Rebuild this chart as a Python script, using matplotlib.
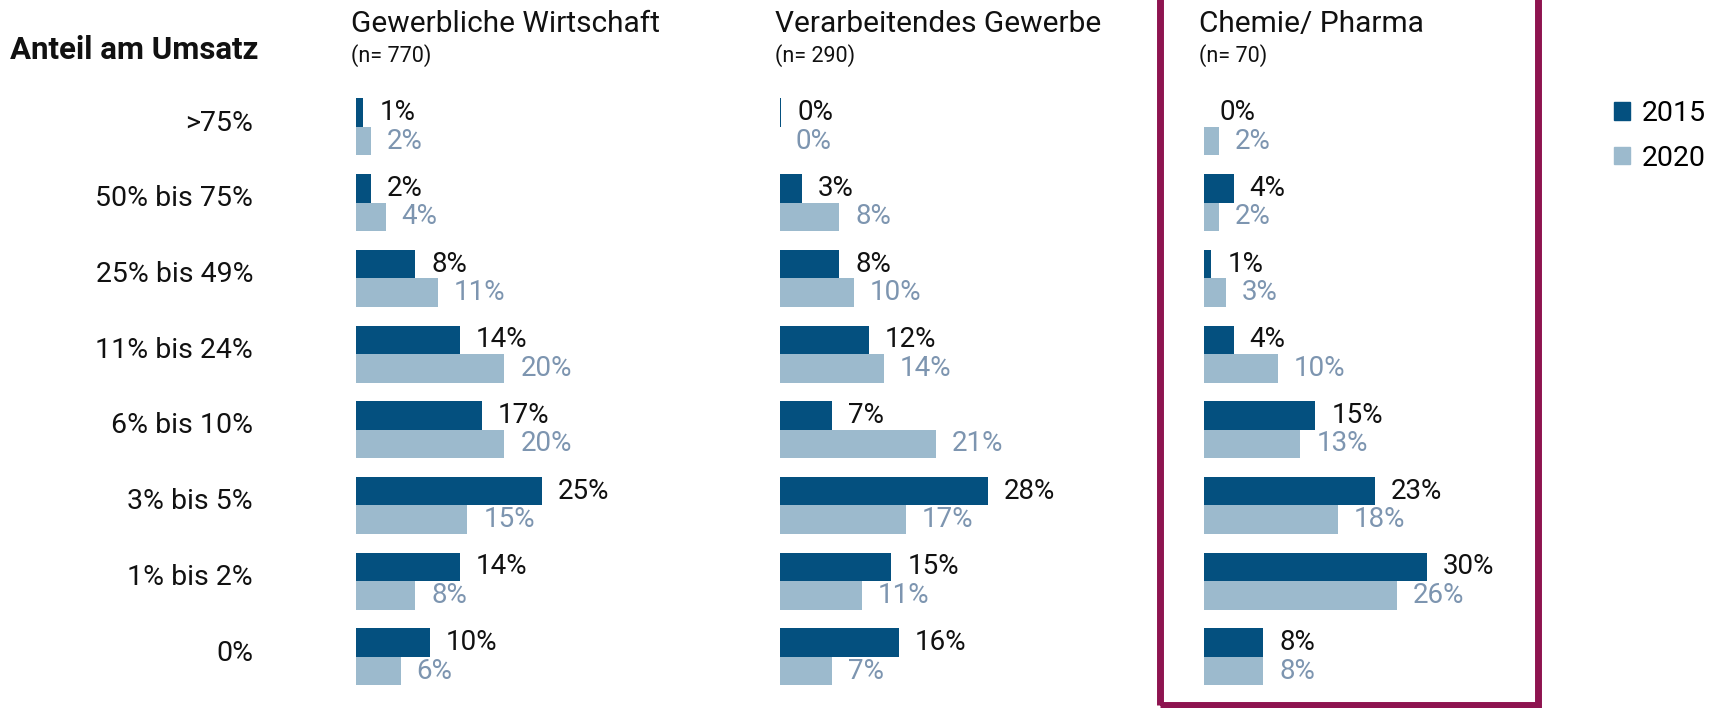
import matplotlib
matplotlib.use("Agg")
import matplotlib.pyplot as plt
from matplotlib.patches import Rectangle, Patch

# Data
categories = [">75%", "50% bis 75%", "25% bis 49%", "11% bis 24%",
              "6% bis 10%", "3% bis 5%", "1% bis 2%", "0%"]
panel_titles = ["Gewerbliche Wirtschaft", "Verarbeitendes Gewerbe", "Chemie/ Pharma"]
panel_n = ["(n= 770)", "(n= 290)", "(n= 70)"]
years = ["2015", "2020"]

gewerbe_2015 = [1, 2, 8, 14, 17, 25, 14, 10]
gewerbe_2020 = [2, 4, 11, 20, 20, 15, 8, 6]
verarb_2015 = [0.2, 3, 8, 12, 7, 28, 15, 16]
verarb_2020 = [0, 8, 10, 14, 21, 17, 11, 7]
chemie_2015 = [0, 4, 1, 4, 15, 23, 30, 8]
chemie_2020 = [2, 2, 3, 10, 13, 18, 26, 8]

series = [(gewerbe_2015, gewerbe_2020),
          (verarb_2015, verarb_2020),
          (chemie_2015, chemie_2020)]

DARK = "#04507f"
LIGHT = "#9cbacd"
LIGHT_TEXT = "#7d95b0"
FRAME = "#8e1450"

plt.rcParams["font.family"] = ["Roboto", "DejaVu Sans"]

W, H = 1721, 708
fig = plt.figure(figsize=(W / 100, H / 100), dpi=100)

PX_PER_PCT = 7.42
panel_left = [356, 780, 1204]
panel_width = 380
ax_top, ax_bottom = 80, 700
bar_h = 0.376

for k, (v15, v20) in enumerate(series):
    left = panel_left[k]
    ax = fig.add_axes([left / W, 1 - ax_bottom / H, panel_width / W, (ax_bottom - ax_top) / H])
    ax.set_xlim(0, panel_width / PX_PER_PCT)
    ax.set_ylim(7.57, -0.62)
    ax.axis("off")
    pos = list(range(len(categories)))
    ax.barh([p - bar_h / 2 for p in pos], v15, height=bar_h, color=DARK, linewidth=0)
    ax.barh([p + bar_h / 2 for p in pos], v20, height=bar_h, color=LIGHT, linewidth=0)
    for p, a, b in zip(pos, v15, v20):
        ax.text(a + 2.15, p - bar_h / 2, f"{round(a)}%", va="center", ha="left",
                fontsize=20, color="#111111")
        ax.text(b + 2.15, p + bar_h / 2, f"{round(b)}%", va="center", ha="left",
                fontsize=20, color=LIGHT_TEXT)
    fig.text((left - 5) / W, 1 - 24 / H, panel_titles[k], fontsize=21.5,
             va="center", ha="left", color="#111111")
    fig.text((left - 5) / W, 1 - 56 / H, panel_n[k], fontsize=15.5,
             va="center", ha="left", color="#111111")
    if k == 0:
        for p, c in zip(pos, categories):
            ax.text(-103 / PX_PER_PCT, p - 0.05, c, ha="right", va="center",
                    fontsize=20.5, color="#111111")

fig.text(10 / W, 1 - 50 / H, "Anteil am Umsatz", fontsize=22.5, fontweight="bold",
         va="center", ha="left", color="#111111")

# highlighted panel frame
fig.patches.append(Rectangle((1159.5 / W, 1 - 705 / H), (1537.5 - 1159.5) / W, 720 / H,
                             transform=fig.transFigure, fill=False,
                             edgecolor=FRAME, linewidth=5, clip_on=False))

handles = [Patch(color=DARK), Patch(color=LIGHT)]
fig.legend(handles, years, loc="upper left", bbox_to_anchor=(1614 / W, 1 - 100 / H),
           frameon=False, fontsize=20.5, handlelength=0.56, handleheight=0.56,
           handletextpad=0.42, labelspacing=0.62, borderaxespad=0, borderpad=0)

fig.savefig("out.png", dpi=100)
